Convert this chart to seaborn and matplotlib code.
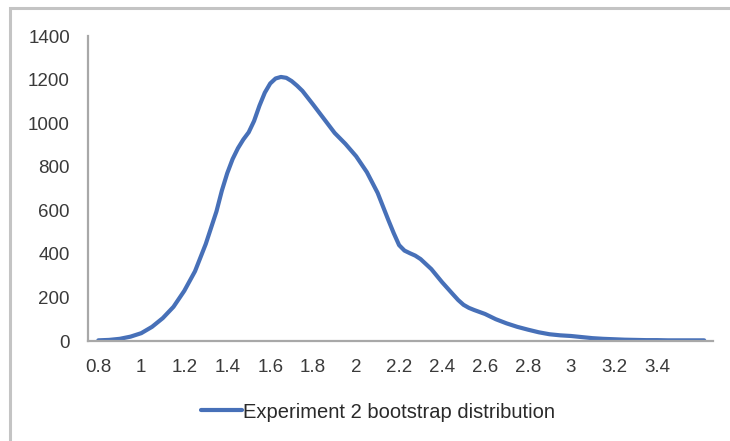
import numpy as np
import pandas as pd
import seaborn as sns
import matplotlib
matplotlib.use("Agg")
import matplotlib.pyplot as plt
from matplotlib.patches import Rectangle
from matplotlib.lines import Line2D

# ---- data ----
x_values = [0.80, 0.85, 0.90, 0.95, 1.00, 1.05, 1.10, 1.15, 1.20, 1.25,
            1.30, 1.35, 1.375, 1.40, 1.425, 1.45, 1.475, 1.50, 1.525, 1.55,
            1.575, 1.60, 1.625, 1.65, 1.675, 1.70, 1.725, 1.75,
            1.80, 1.85, 1.90, 1.95, 2.00, 2.05, 2.10, 2.15, 2.175, 2.20,
            2.225, 2.25, 2.275, 2.30, 2.35, 2.40, 2.45, 2.475, 2.50, 2.525,
            2.55, 2.60, 2.65, 2.70, 2.75,
            2.80, 2.85, 2.90, 2.95, 3.00, 3.05, 3.10, 3.15, 3.20, 3.25,
            3.30, 3.35, 3.40, 3.45, 3.50, 3.55, 3.62]
counts = [3, 5, 10, 20, 36, 65, 105, 157, 230, 320,
          445, 595, 690, 770, 835, 885, 925, 958, 1010, 1080,
          1140, 1182, 1205, 1212, 1208, 1193, 1172, 1148,
          1085, 1020, 955, 905, 848, 775, 680, 555, 495, 440,
          415, 403, 392, 376, 330, 270, 215, 188, 166, 152,
          142, 124, 100, 81, 65,
          52, 40, 31, 26, 23, 18, 13, 10, 8, 6,
          5, 4, 4, 3, 3, 3, 3]
x_tick_labels = ["0.8", "1", "1.2", "1.4", "1.6", "1.8", "2", "2.2",
                 "2.4", "2.6", "2.8", "3", "3.2", "3.4"]
y_ticks = [0, 200, 400, 600, 800, 1000, 1200, 1400]
series_name = "Experiment 2 bootstrap distribution"

df = pd.DataFrame({"x": x_values, "count": counts, "series": series_name})

sns.set_theme(style="white")
plt.rcParams["font.family"] = ["Liberation Sans", "DejaVu Sans"]

W, H = 730, 441
fig = plt.figure(figsize=(W / 100, H / 100), dpi=100)
fig.patch.set_facecolor("white")

# outer chart frame (cropped at right/bottom)
fig.patches.append(Rectangle((10 / W, -0.05), 1.1, 1 - 8 / H + 0.05,
                             transform=fig.transFigure, fill=False,
                             edgecolor="#c4c4c4", linewidth=2.2, zorder=0))

ax = fig.add_axes([88 / W, 1 - 341 / H, (713 - 88) / W, (341 - 36) / H])
ax.set_facecolor("none")

sns.lineplot(data=df, x="x", y="count", hue="series", ax=ax,
             palette=["#4770B8"], linewidth=3.0, legend=False,
             solid_joinstyle="round", solid_capstyle="round")

ax.set_xlim(0.752, 3.661)
ax.set_ylim(0, 1400)
tick_pos = [float(t) for t in x_tick_labels]
ax.set_xticks(tick_pos)
ax.set_xticklabels(x_tick_labels)
ax.set_yticks(y_ticks)
ax.set_yticklabels([str(v) for v in y_ticks])
ax.tick_params(axis="both", length=0, labelsize=13.5, colors="#3a3a3a")
ax.tick_params(axis="x", pad=13)
ax.tick_params(axis="y", pad=13)
ax.set_xlabel("")
ax.set_ylabel("")

for s in ["top", "right"]:
    ax.spines[s].set_visible(False)
for s in ["left", "bottom"]:
    ax.spines[s].set_color("#a8a8a8")
    ax.spines[s].set_linewidth(1.6)

handle = Line2D([0], [0], color="#4770B8", linewidth=3.0)
fig.legend([handle], [series_name], loc="center",
           bbox_to_anchor=(378 / W, 1 - 412 / H), frameon=False,
           fontsize=14.5, handlelength=2.0, handletextpad=0.05,
           labelcolor="#2a2a2a")

fig.savefig("out.png", dpi=100, facecolor="white")
